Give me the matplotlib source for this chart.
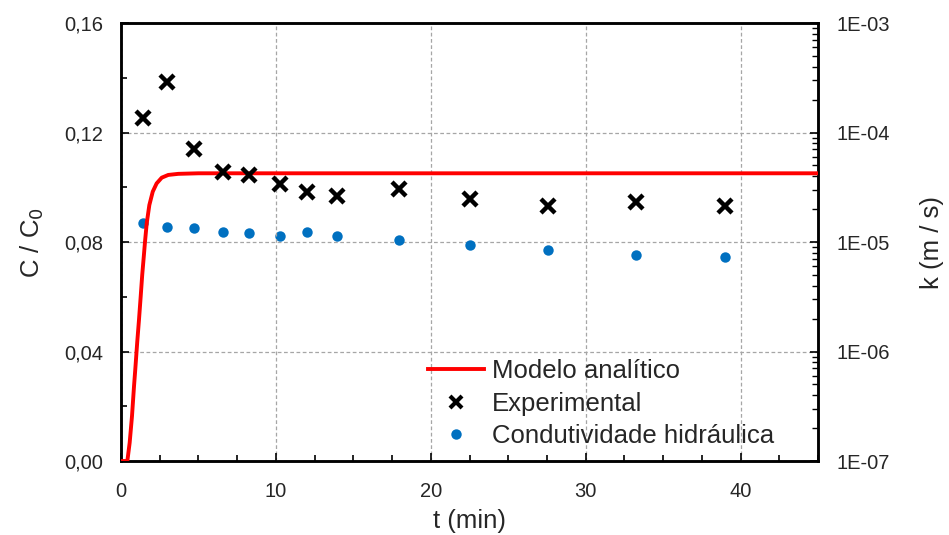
import numpy as np
import matplotlib
matplotlib.use("Agg")
import matplotlib.pyplot as plt
from matplotlib.ticker import MultipleLocator, FuncFormatter, LogLocator, NullFormatter
from matplotlib.lines import Line2D

plt.rcParams['font.family'] = ['Liberation Sans', 'DejaVu Sans']

# Analytical model curve (C/C0 versus time)
model_t = [0.0, 0.41, 0.56, 0.71, 0.84, 0.92, 1.05, 1.16, 1.27, 1.37, 1.48, 1.55, 1.66,
           1.83, 2.05, 2.30, 2.63, 3.05, 3.70, 5.0, 45.0]
model_c = [0.0, 0.0, 0.0067, 0.0164, 0.0273, 0.0333, 0.0436, 0.0515, 0.0600, 0.0680, 0.0753,
           0.0801, 0.0868, 0.0935, 0.0984, 0.1014, 0.1035, 0.1045, 0.1049, 0.1051, 0.1051]

# Experimental concentration measurements
exp_t = [1.44, 3.0, 4.74, 6.57, 8.28, 10.26, 11.99, 13.94, 17.97, 22.53, 27.56, 33.22, 38.97]
exp_c = [0.1252, 0.1386, 0.1139, 0.1057, 0.1045, 0.1011, 0.0982, 0.0969, 0.0993, 0.0956, 0.0931, 0.0947, 0.0931]

# Hydraulic conductivity (m/s)
k_t = [1.44, 3.0, 4.74, 6.57, 8.28, 10.26, 11.99, 13.94, 17.97, 22.53, 27.56, 33.22, 38.97]
k_val = [1.48e-5, 1.38e-5, 1.33e-5, 1.23e-5, 1.20e-5, 1.14e-5, 1.23e-5, 1.14e-5, 1.04e-5, 9.4e-6, 8.45e-6, 7.56e-6, 7.34e-6]

x_ticks = [0, 10, 20, 30, 40]
y_ticks = [0.0, 0.04, 0.08, 0.12, 0.16]

text_col = '#262626'
fig = plt.figure(figsize=(9.49, 5.35), dpi=100)
ax = fig.add_axes([0.1275, 0.1383, 0.7345, 0.8187])
ax2 = ax.twinx()

# left axis on top so the model line covers the conductivity dots
ax.set_zorder(2)
ax.patch.set_visible(False)
ax2.set_zorder(1)

ax.plot(model_t, model_c, color='#FF0000', lw=2.8, solid_capstyle='butt',
        solid_joinstyle='round', zorder=3)
ax.plot(exp_t, exp_c, linestyle='none', marker='x', color='black', ms=10, mew=3.2, zorder=4)
ax2.plot(k_t, k_val, linestyle='none', marker='o', color='#0070C0', ms=7.5, mec='none', zorder=3)

ax.set_xlim(0, 45)
ax.set_ylim(0, 0.16)
ax2.set_yscale('log')
ax2.set_ylim(1e-7, 1e-3)

ax.set_xticks(x_ticks)
ax.xaxis.set_minor_locator(MultipleLocator(2.5))
ax.set_yticks(y_ticks)
ax.yaxis.set_minor_locator(MultipleLocator(0.02))
ax.yaxis.set_major_formatter(FuncFormatter(lambda v, p: f"{v:.2f}".replace('.', ',')))

ax2.yaxis.set_major_locator(LogLocator(base=10, numticks=10))
ax2.yaxis.set_minor_locator(LogLocator(base=10, subs=np.arange(2, 10), numticks=20))
ax2.yaxis.set_minor_formatter(NullFormatter())
ax2.yaxis.set_major_formatter(FuncFormatter(lambda v, p: f"1E-{int(round(-np.log10(v))):02d}"))

# grid: decades of the log axis coincide with the 0.04 steps of the left axis
ax2.grid(True, axis='y', which='major', color='#A6A6A6', linestyle=(0, (3, 2)), lw=0.9)
ax.grid(True, axis='x', which='major', color='#A6A6A6', linestyle=(0, (3, 2)), lw=0.9)
ax.set_axisbelow(True)

for a in (ax, ax2):
    for s in a.spines.values():
        s.set_linewidth(1.8)
        s.set_color('black')

ax.tick_params(axis='both', which='major', direction='in', length=6, width=1.2, labelsize=14.5,
               colors='black', labelcolor=text_col, top=False, right=False)
ax.tick_params(axis='x', which='major', pad=15)
ax.tick_params(axis='y', which='major', pad=13)
ax.tick_params(axis='both', which='minor', direction='in', length=4, width=1.2, top=False, right=False)
ax2.tick_params(axis='y', which='major', direction='in', length=6, width=1.2, labelsize=14.5,
                labelcolor=text_col, pad=13)
ax2.tick_params(axis='y', which='minor', direction='in', length=4, width=1.0)

ax.set_xlabel('t (min)', fontsize=18.5, color=text_col, labelpad=6)
ax.set_ylabel('C / C$_0$', fontsize=18.5, color=text_col, labelpad=13)
ax2.set_ylabel('k (m / s)', fontsize=18.5, color=text_col, labelpad=22)

handles = [
    Line2D([], [], color='#FF0000', lw=2.8),
    Line2D([], [], linestyle='none', marker='x', color='black', ms=9, mew=3),
    Line2D([], [], linestyle='none', marker='o', color='#0070C0', ms=7.5, mec='none'),
]
labels = ['Modelo analítico', 'Experimental', 'Condutividade hidráulica']
leg = ax.legend(handles, labels, loc='lower left', bbox_to_anchor=(0.44, 0.03), frameon=False,
                fontsize=18.5, handlelength=2.2, handletextpad=0.3, labelspacing=0.32,
                borderaxespad=0.0, borderpad=0.0)
for t in leg.get_texts():
    t.set_color(text_col)

fig.savefig('out.png', dpi=100)
